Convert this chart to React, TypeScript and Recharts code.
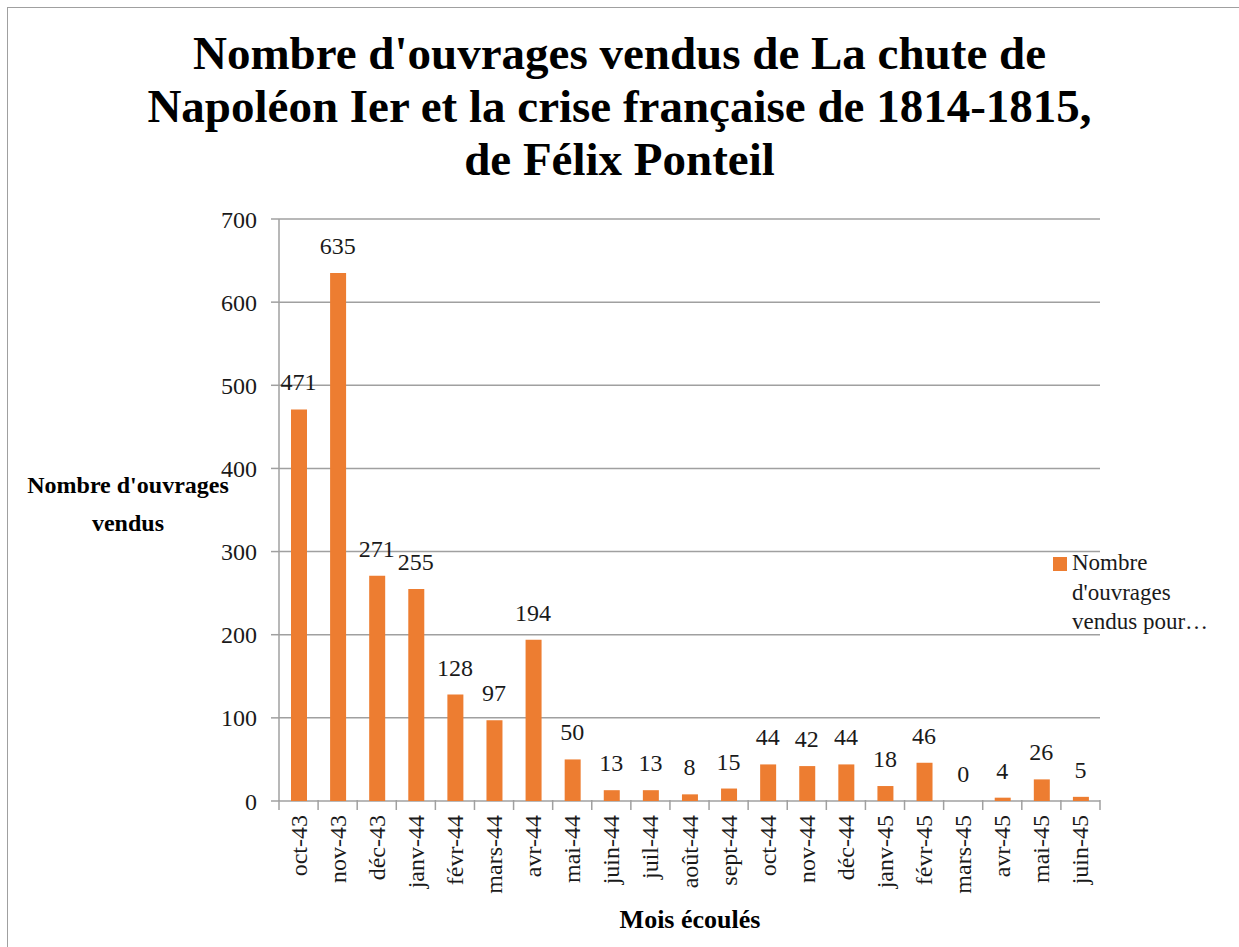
import React from 'react';
import { ComposedChart, Bar, Line, XAxis, YAxis, CartesianGrid, LabelList } from 'recharts';

const months = ['oct-43', 'nov-43', 'déc-43', 'janv-44', 'févr-44', 'mars-44', 'avr-44', 'mai-44', 'juin-44', 'juil-44', 'août-44', 'sept-44', 'oct-44', 'nov-44', 'déc-44', 'janv-45', 'févr-45', 'mars-45', 'avr-45', 'mai-45', 'juin-45'];
const sales = [471, 635, 271, 255, 128, 97, 194, 50, 13, 13, 8, 15, 44, 42, 44, 18, 46, 0, 4, 26, 5];
const yTicks = [0, 100, 200, 300, 400, 500, 600, 700];
const edgeTicks = Array.from({ length: months.length + 1 }, (_, i) => i);
const titleLines = ["Nombre d'ouvrages vendus de La chute de", "Napoléon Ier et la crise française de 1814-1815,", 'de Félix Ponteil'];
const yLabelLines = ["Nombre d'ouvrages", 'vendus'];
const xLabel = 'Mois écoulés';
const legendLines = ['Nombre', "d'ouvrages", 'vendus pour…'];

// slot = category index centre on a continuous axis used for the boundary tick marks
const data = months.map((m, i) => ({ month: m, value: sales[i], slot: i + 0.5 }));

const FONT = 'Liberation Serif, Times New Roman, serif';
const ORANGE = '#ED7D31';
const GRID = '#a0a0a0';
const TXT = '#1a1a1a';

const MonthTick = (props: any) => {
  const { x, y, payload } = props;
  return (
    <g transform={`translate(${x + 8},${y + 6})`}>
      <text transform="rotate(-90)" textAnchor="end" style={{ fontFamily: FONT }} fontSize={24} fill={TXT}>
        {payload.value}
      </text>
    </g>
  );
};

const EdgeTick = (props: any) => {
  const { x, y } = props;
  return <line x1={x} x2={x} y1={y - 2} y2={y + 8} stroke={GRID} strokeWidth={1.5} />;
};

export default function App() {
  return (
    <div style={{ position: 'absolute', left: 0, top: 0, width: 1239, height: 947, overflow: 'hidden', background: '#fff', fontFamily: FONT }}>
      <div style={{ position: 'absolute', left: 7, top: 7, width: 1260, height: 980, border: '1.5px solid #a0a0a0', boxSizing: 'border-box' }} />
      <div style={{ position: 'absolute', left: 0, top: 27, width: 1239, textAlign: 'center', fontWeight: 'bold', fontSize: 47, lineHeight: '53px', color: '#000' }}>
        {titleLines.map((l, i) => (
          <div key={i}>{l}</div>
        ))}
      </div>
      <ComposedChart
        width={1239}
        height={947}
        data={data}
        margin={{ top: 219, right: 139, left: 219, bottom: 26 }}
        barSize={16}
        style={{ fontFamily: FONT }}
      >
        <CartesianGrid xAxisId="cat" vertical={false} stroke={GRID} strokeWidth={1.5} />
        <XAxis
          xAxisId="cat"
          dataKey="month"
          height={1}
          axisLine={false}
          tickLine={false}
          interval={0}
          tick={<MonthTick />}
        />
        <XAxis
          xAxisId="edge"
          dataKey="slot"
          type="number"
          domain={[0, months.length]}
          ticks={edgeTicks}
          allowDataOverflow
          height={119}
          axisLine={false}
          tickLine={false}
          tickSize={0}
          tickMargin={0}
          tick={<EdgeTick />}
          interval={0}
        />
        <YAxis
          width={60}
          domain={[0, 700]}
          ticks={yTicks}
          stroke={GRID}
          strokeWidth={1.5}
          tickSize={8}
          tickMargin={14}
          tick={{ fontFamily: FONT, fontSize: 24, fill: TXT }}
        />
        <Bar xAxisId="cat" dataKey="value" fill={ORANGE} isAnimationActive={false} />
        <Line
          xAxisId="edge"
          dataKey="value"
          stroke="none"
          dot={false}
          activeDot={false}
          legendType="none"
          isAnimationActive={false}
        >
          <LabelList dataKey="value" position="top" offset={19} fontFamily={FONT} fontSize={24} fill={TXT} />
        </Line>
      </ComposedChart>
      <div style={{ position: 'absolute', left: 10, top: 466, width: 236, textAlign: 'center', fontWeight: 'bold', fontSize: 24, lineHeight: '38px', color: '#000' }}>
        {yLabelLines.map((l, i) => (
          <div key={i}>{l}</div>
        ))}
      </div>
      <div style={{ position: 'absolute', left: 540, top: 905, width: 300, textAlign: 'center', fontWeight: 'bold', fontSize: 26, color: '#000' }}>
        {xLabel}
      </div>
      <div style={{ position: 'absolute', left: 1053, top: 557, width: 14, height: 14, background: ORANGE }} />
      <div style={{ position: 'absolute', left: 1072, top: 548, fontSize: 23, lineHeight: '29.5px', color: TXT }}>
        {legendLines.map((l, i) => (
          <div key={i}>{l}</div>
        ))}
      </div>
    </div>
  );
}
